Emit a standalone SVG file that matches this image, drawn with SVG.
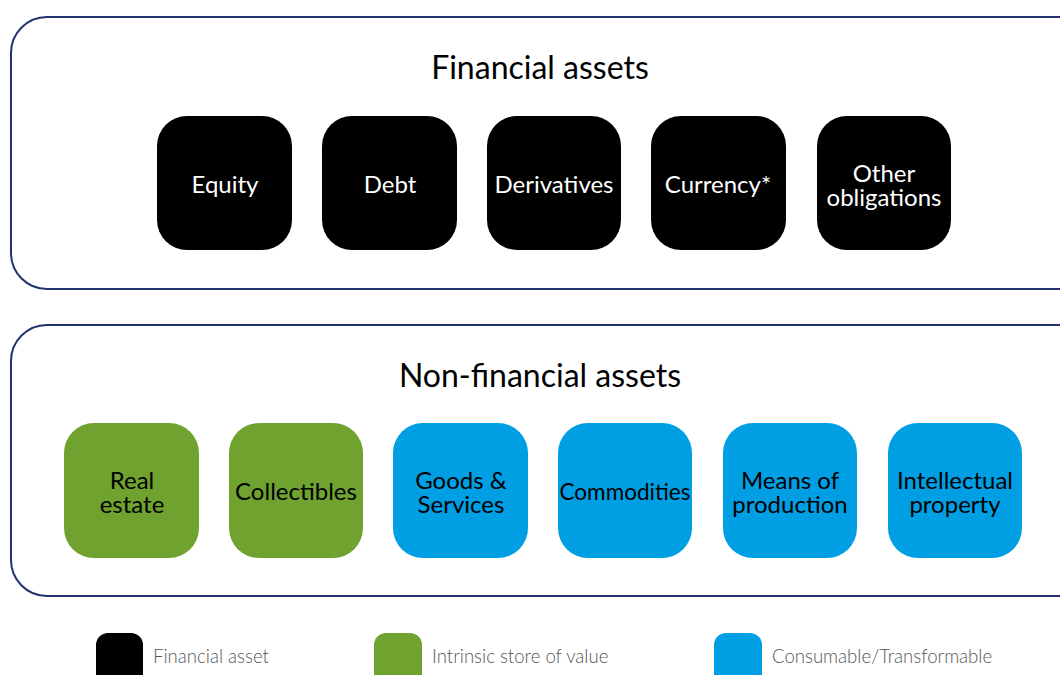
<svg xmlns="http://www.w3.org/2000/svg" width="1060" height="675" viewBox="0 0 1060 675">
<style>
.frame{fill:#fff;stroke:#22326e;stroke-width:2}
.title{font-family:Lato,"Liberation Sans",sans-serif;font-size:32px;fill:#000;text-anchor:middle}
.fin rect{fill:#000}
.grn rect{fill:#6fa22f}
.blu rect{fill:#009fe3}
.lbl{font-family:Lato,"Liberation Sans",sans-serif;font-size:24px;text-anchor:middle}
.fin .lbl{fill:#fff}
.grn .lbl,.blu .lbl{fill:#000}
.leg{font-family:Lato,"Liberation Sans",sans-serif;font-size:18.6px;fill:#555;font-weight:300}
</style>
<rect width="1060" height="675" fill="#fff"/>
<g id="financial-assets">
<rect class="frame" x="11" y="17" width="1085" height="272" rx="36"/>
<text class="title" x="540" y="79">Financial assets</text>
</g>
<g id="equity" class="fin"><rect x="157" y="116" width="135" height="134" rx="30"/><text class="lbl" x="225" y="193">Equity</text></g>
<g id="debt" class="fin"><rect x="322" y="116" width="135" height="134" rx="30"/><text class="lbl" x="390" y="193">Debt</text></g>
<g id="derivatives" class="fin"><rect x="487" y="116" width="134" height="134" rx="30"/><text class="lbl" x="554" y="193">Derivatives</text></g>
<g id="currency" class="fin"><rect x="651" y="116" width="135" height="134" rx="30"/><text class="lbl" x="718" y="193">Currency*</text></g>
<g id="other-obligations" class="fin"><rect x="817" y="116" width="134" height="134" rx="30"/><text class="lbl" x="884" y="182">Other</text><text class="lbl" x="884" y="206">obligations</text></g>
<g id="non-financial-assets">
<rect class="frame" x="11" y="325" width="1085" height="271" rx="36"/>
<text class="title" x="540" y="387">Non-financial assets</text>
</g>
<g id="real-estate" class="grn"><rect x="64" y="423" width="135" height="135" rx="30"/><text class="lbl" x="132" y="489">Real</text><text class="lbl" x="132" y="513">estate</text></g>
<g id="collectibles" class="grn"><rect x="229" y="423" width="134" height="135" rx="30"/><text class="lbl" x="296" y="500">Collectibles</text></g>
<g id="goods-services" class="blu"><rect x="393" y="423" width="135" height="135" rx="30"/><text class="lbl" x="461" y="489">Goods &amp;</text><text class="lbl" x="461" y="513">Services</text></g>
<g id="commodities" class="blu"><rect x="558" y="423" width="134" height="135" rx="30"/><text class="lbl" x="625" y="500" textLength="131" lengthAdjust="spacingAndGlyphs">Commodities</text></g>
<g id="means-of-production" class="blu"><rect x="723" y="423" width="134" height="135" rx="30"/><text class="lbl" x="790" y="489">Means of</text><text class="lbl" x="790" y="513">production</text></g>
<g id="intellectual-property" class="blu"><rect x="888" y="423" width="134" height="135" rx="30"/><text class="lbl" x="955" y="489">Intellectual</text><text class="lbl" x="955" y="513">property</text></g>
<g id="connectors"></g>
<g id="legend">
<g id="legend-financial" class="fin"><rect x="96" y="633" width="47" height="60" rx="12"/><text class="leg" x="153" y="663">Financial asset</text></g>
<g id="legend-intrinsic" class="grn"><rect x="374" y="633" width="48" height="60" rx="12"/><text class="leg" x="432" y="663">Intrinsic store of value</text></g>
<g id="legend-consumable" class="blu"><rect x="714" y="633" width="48" height="60" rx="12"/><text class="leg" x="772" y="663">Consumable/Transformable</text></g>
</g>
</svg>
